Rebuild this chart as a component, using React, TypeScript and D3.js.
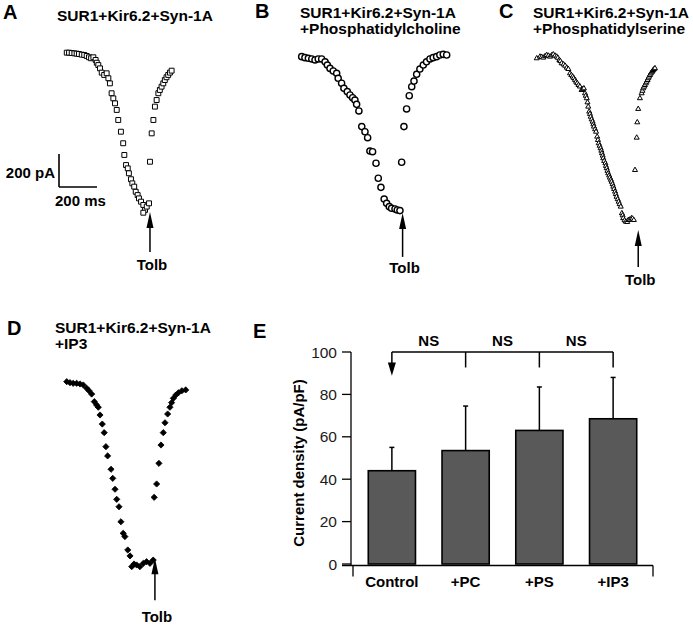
import React from 'react';
import * as d3 from 'd3';

// ---- Trace data: [time (ms), current (pA)] relative to first point ----
const traceA: [number, number][] = [
  [4, 2], [16, 2], [30, 0], [44, -2], [56, -4], [68, -6], [83, -10], [96, -12], [109, -18],
  [121, -26], [132, -32], [144, -26], [156, -42], [162, -59], [170, -73], [179, -93],
  [188, -119], [201, -133], [214, -123], [223, -153], [231, -184], [240, -244], [249, -275],
  [258, -305], [267, -345], [275, -406], [289, -477], [301, -547], [307, -618], [316, -679],
  [325, -699], [331, -729], [342, -765], [349, -790], [359, -810], [367, -841], [377, -861],
  [384, -881], [395, -901], [407, -921], [416, -951], [407, -968], [425, -931], [437, -911],
  [442, -659], [451, -487], [460, -406], [468, -325], [477, -285], [486, -244], [494, -224],
  [503, -204], [512, -184], [520, -164], [529, -147], [538, -133], [547, -119], [556, -107],
];

const traceB: [number, number][] = [
  [9, -4], [26, -10], [44, -14], [62, -18], [79, -24], [96, -18], [114, -18], [132, -35],
  [144, -55], [158, -75], [175, -91], [193, -105], [201, -135], [219, -165], [231, -196],
  [249, -216], [263, -236], [277, -253], [289, -267], [298, -293], [310, -333], [325, -428],
  [342, -459], [356, -495], [368, -576], [382, -580], [400, -650], [412, -741], [426, -796],
  [443, -867], [456, -893], [470, -913], [482, -923], [500, -927], [512, -933], [526, -937],
  [535, -644], [547, -428], [561, -321], [575, -241], [588, -186], [600, -152], [614, -111],
  [631, -79], [649, -55], [666, -35], [684, -18], [701, -10], [719, -4], [736, 6], [754, 10],
  [772, 6],
];

const traceC: [number, number][] = [
  [4, -8], [21, 2], [30, 0], [38, -4], [48, 5], [56, 12], [65, 8], [74, 2], [82, 10], [91, 16],
  [100, 8], [109, 2], [115, -5], [123, -18], [128, -25], [135, -38], [145, -45], [153, -53],
  [162, -65], [170, -73], [179, -99], [186, -110], [193, -119], [199, -128], [205, -139],
  [211, -150], [217, -159], [224, -170], [231, -179], [240, -200], [246, -195], [252, -190],
  [258, -220], [262, -235], [267, -250], [271, -275], [275, -301], [280, -331], [284, -345],
  [288, -362], [293, -378], [298, -392], [302, -408], [305, -422], [311, -438], [316, -453],
  [322, -483], [326, -503], [330, -523], [335, -538], [340, -553], [344, -568], [347, -583],
  [351, -598], [354, -614], [359, -630], [365, -644], [368, -660], [372, -674], [376, -690],
  [380, -705], [385, -718], [389, -731], [394, -744], [398, -756], [403, -771], [407, -786],
  [411, -800], [416, -816], [420, -831], [424, -847], [430, -862], [435, -877], [440, -892],
  [446, -907], [452, -947], [456, -960], [459, -977], [466, -990], [473, -998], [480, -1000],
  [486, -988], [494, -985], [503, -977], [508, -980], [515, -988],
  [521, -685], [530, -489], [533, -396], [538, -315], [547, -250], [556, -220], [560, -205],
  [564, -190], [569, -180], [573, -170], [578, -160], [582, -150], [587, -140], [591, -129],
  [595, -119], [600, -109], [604, -100], [609, -93], [613, -86], [617, -79], [622, -73],
  [626, -68],
];

const traceD: [number, number][] = [
  [4, 2], [21, -4], [38, -8], [56, -8], [74, -12], [91, -18], [109, -38], [121, -53],
  [135, -73], [149, -119], [161, -139], [170, -153], [179, -200], [191, -255], [201, -307],
  [210, -392], [219, -448], [237, -529], [246, -584], [258, -650], [267, -711], [279, -756],
  [289, -847], [301, -917], [310, -937], [325, -1018], [337, -1054], [346, -1119],
  [358, -1103], [372, -1109], [389, -1119], [407, -1099], [424, -1089], [442, -1099],
  [459, -1079],
  [464, -699], [477, -618], [489, -493], [500, -382], [512, -307], [521, -247], [535, -194],
  [547, -153], [556, -125], [565, -99], [578, -79], [592, -65], [610, -53], [630, -48],
];

// Tolbutamide application points [ms, pA]
const tolbA: [number, number] = [442, -963];
const tolbB: [number, number] = [540, -951];
const tolbC: [number, number] = [538, -1048];
const tolbD: [number, number] = [468, -1068];

const scaleBarPa = 200;
const scaleBarMs = 200;

// ---- Bar chart data ----
const categories = ['Control', '+PC', '+PS', '+IP3'];
const means = [44, 53.5, 63, 68.5];
const errors = [11, 21, 20.5, 19.5];
const yTicks = [0, 20, 40, 60, 80, 100];
const nsLabels = ['NS', 'NS', 'NS'];

const FONT = '"Liberation Sans", Arial, Helvetica, sans-serif';

// shared trace scales (ms -> px, pA -> px)
const tScale = d3.scaleLinear().domain([0, 200]).range([0, 38]);
const iScale = d3.scaleLinear().domain([0, -200]).range([0, 33]);

const squareSym = d3.symbol(d3.symbolSquare, 24)() as string;
const triSym = d3.symbol(d3.symbolTriangle, 11)() as string;
const diamondSym = d3.symbol(d3.symbolSquare, 19)() as string;

type Marker = 'square' | 'circle' | 'triangle' | 'diamond';

function Trace({ data, ox, oy, marker }: { data: [number, number][]; ox: number; oy: number; marker: Marker }) {
  return (
    <g>
      {data.map(([t, i], k) => {
        const x = ox + tScale(t);
        const y = oy + iScale(i);
        if (marker === 'circle')
          return <circle key={k} cx={x} cy={y} r={3.1} fill="white" stroke="black" strokeWidth={1.4} />;
        if (marker === 'square')
          return <path key={k} d={squareSym} transform={`translate(${x},${y})`} fill="white" stroke="black" strokeWidth={1} />;
        if (marker === 'triangle')
          return <path key={k} d={triSym} transform={`translate(${x},${y})`} fill="white" stroke="black" strokeWidth={1} />;
        return <path key={k} d={diamondSym} transform={`translate(${x},${y}) rotate(45)`} fill="black" stroke="black" strokeWidth={0.8} />;
      })}
    </g>
  );
}

function TolbArrow({ tip, ox, oy, stem, textDy }: { tip: [number, number]; ox: number; oy: number; stem: number; textDy: number }) {
  const x = ox + tScale(tip[0]);
  const y = oy + iScale(tip[1]);
  return (
    <g>
      <path d={`M${x},${y} L${x - 3.5},${y + 16} L${x + 3.5},${y + 16} Z`} fill="black" />
      <line x1={x} x2={x} y1={y + 10} y2={y + stem} stroke="black" strokeWidth={1.5} />
      <text x={x + 2} y={y + textDy} textAnchor="middle" fontFamily={FONT} fontWeight="bold" fontSize={15}>Tolb</text>
    </g>
  );
}

function PanelLabel({ x, y, t }: { x: number; y: number; t: string }) {
  return <text x={x} y={y} fontFamily={FONT} fontWeight="bold" fontSize={20}>{t}</text>;
}

function Title({ x, y, lines }: { x: number; y: number; lines: string[] }) {
  return (
    <text x={x} y={y} fontFamily={FONT} fontWeight="bold" fontSize={15.5}>
      {lines.map((l, k) => (
        <tspan key={k} x={x} dy={k === 0 ? 0 : 16}>{l}</tspan>
      ))}
    </text>
  );
}

function BarPanel() {
  const x = d3.scaleBand<string>().domain(categories).range([355, 650]).paddingInner(0.36).paddingOuter(0.18);
  const y = d3.scaleLinear().domain([0, 100]).range([564, 352]);
  const cx = (c: string) => (x(c) as number) + x.bandwidth() / 2;
  const axisY = y(0) + 1.5;
  const bracketY = y(100);
  const dropY = y(92.7);
  return (
    <g fontFamily={FONT}>
      <PanelLabel x={253} y={338} t="E" />
      {categories.map((c, k) => (
        <g key={c}>
          <line x1={cx(c)} x2={cx(c)} y1={y(means[k])} y2={y(means[k] + errors[k])} stroke="black" strokeWidth={1.5} />
          <line x1={cx(c) - 2.5} x2={cx(c) + 2.5} y1={y(means[k] + errors[k])} y2={y(means[k] + errors[k])} stroke="black" strokeWidth={1.5} />
          <rect x={x(c)} y={y(means[k])} width={x.bandwidth()} height={y(0) - y(means[k])} fill="#595959" stroke="black" strokeWidth={1.6} />
        </g>
      ))}
      <line x1={351} x2={351} y1={y(100)} y2={axisY} stroke="black" strokeWidth={1.3} />
      {yTicks.map((t) => (
        <g key={t}>
          <line x1={342} x2={351} y1={y(t)} y2={y(t)} stroke="black" strokeWidth={1.3} />
          <text x={337} y={y(t) + 5.5} textAnchor="end" fontSize={15.5} fill="#1a1a1a">{t}</text>
        </g>
      ))}
      <line x1={342} x2={653} y1={axisY} y2={axisY} stroke="black" strokeWidth={1.3} />
      <line x1={353} x2={353} y1={axisY} y2={axisY + 11} stroke="black" strokeWidth={1.3} />
      <line x1={653} x2={653} y1={axisY} y2={axisY + 11} stroke="black" strokeWidth={1.3} />
      {categories.map((c) => (
        <text key={c} x={cx(c)} y={587} textAnchor="middle" fontWeight="bold" fontSize={15}>{c}</text>
      ))}
      <text transform="translate(304,463) rotate(-90)" textAnchor="middle" fontWeight="bold" fontSize={15}>Current density (pA/pF)</text>
      <line x1={cx(categories[0])} x2={cx(categories[3])} y1={bracketY} y2={bracketY} stroke="black" strokeWidth={1.5} />
      {categories.slice(1).map((c) => (
        <line key={c} x1={cx(c)} x2={cx(c)} y1={bracketY} y2={dropY} stroke="black" strokeWidth={1.5} />
      ))}
      <line x1={cx(categories[0])} x2={cx(categories[0])} y1={bracketY} y2={y(93)} stroke="black" strokeWidth={1.5} />
      <path d={`M${cx(categories[0]) - 4},${y(95)} L${cx(categories[0]) + 4},${y(95)} L${cx(categories[0])},${y(88.8)} Z`} fill="black" />
      {nsLabels.map((n, k) => (
        <text key={k} x={(cx(categories[k]) + cx(categories[k + 1])) / 2} y={346} textAnchor="middle" fontWeight="bold" fontSize={15}>{n}</text>
      ))}
    </g>
  );
}

export default function App() {
  const sbX = 59;
  const sbY = 187;
  return (
    <svg width={693} height={625} style={{ position: 'absolute', left: 0, top: 0, background: 'white' }}>
      <rect width={693} height={625} fill="white" />
      <PanelLabel x={3} y={19} t="A" />
      <Title x={57} y={21} lines={['SUR1+Kir6.2+Syn-1A']} />
      <Trace data={traceA} ox={66} oy={53} marker="square" />
      <TolbArrow tip={tolbA} ox={66} oy={53} stem={40} textDy={58} />
      <line x1={sbX} x2={sbX} y1={sbY - iScale(-scaleBarPa)} y2={sbY} stroke="black" strokeWidth={1.6} />
      <line x1={sbX} x2={sbX + tScale(scaleBarMs)} y1={sbY} y2={sbY} stroke="black" strokeWidth={1.6} />
      <text x={55} y={178} textAnchor="end" fontFamily={FONT} fontWeight="bold" fontSize={15}>200 pA</text>
      <text x={55} y={206} fontFamily={FONT} fontWeight="bold" fontSize={15}>200 ms</text>

      <PanelLabel x={255} y={18} t="B" />
      <Title x={300} y={18} lines={['SUR1+Kir6.2+Syn-1A', '+Phosphatidylcholine']} />
      <Trace data={traceB} ox={300} oy={56} marker="circle" />
      <TolbArrow tip={tolbB} ox={300} oy={56} stem={44} textDy={60} />

      <PanelLabel x={499} y={18} t="C" />
      <Title x={533} y={18} lines={['SUR1+Kir6.2+Syn-1A', '+Phosphatidylserine']} />
      <Trace data={traceC} ox={536} oy={57} marker="triangle" />
      <TolbArrow tip={tolbC} ox={536} oy={57} stem={37} textDy={55} />

      <PanelLabel x={7} y={335} t="D" />
      <Title x={55} y={333} lines={['SUR1+Kir6.2+Syn-1A', '+IP3']} />
      <Trace data={traceD} ox={66} oy={382} marker="diamond" />
      <TolbArrow tip={tolbD} ox={66} oy={382} stem={42} textDy={64} />

      <BarPanel />
    </svg>
  );
}
